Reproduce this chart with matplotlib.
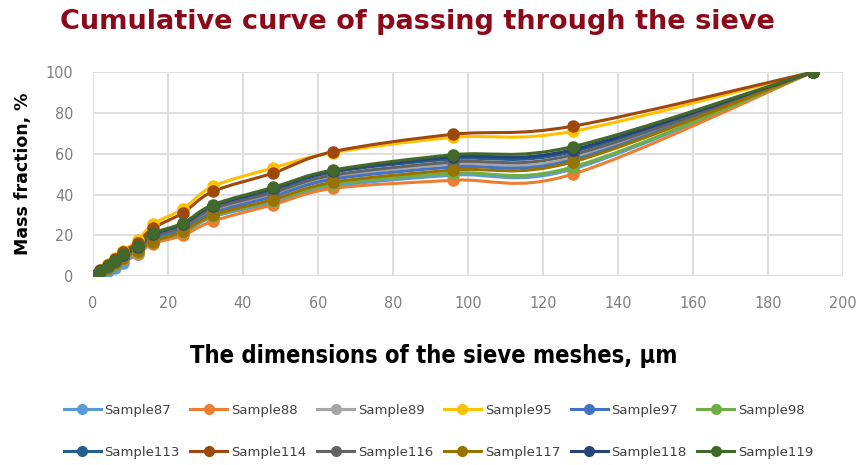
import matplotlib
matplotlib.use("Agg")
import matplotlib.pyplot as plt
import numpy as np
from matplotlib.lines import Line2D
from matplotlib.path import Path
from matplotlib.patches import PathPatch

# sieve mesh sizes, um
sizes = [0, 2, 4, 6, 8, 12, 16, 24, 32, 48, 64, 96, 128, 192]

s87 = [0, 1.2, 2.5, 4, 6.5, 11, 16.5, 21, 29, 36, 44, 49.5, 52.5, 100]
s88 = [0, 2, 3.8, 5.8, 8.5, 11, 16, 20, 27, 35, 43, 47, 50, 100]
s89 = [0, 2.2, 4.5, 6.8, 9.8, 13.5, 19, 24, 32, 40, 48.5, 55, 58, 100]
s95 = [0, 3, 6, 9, 12.5, 17.5, 25.5, 33, 44, 53, 60.5, 68, 71, 100]
s97 = [0, 2, 4.3, 6.5, 9.5, 13, 18.5, 23, 31, 39, 47.5, 53.5, 57, 100]
s98 = [0, 2, 4, 6, 9, 12, 17, 21.5, 29.5, 37, 45, 50.5, 53.5, 100]
s113 = [0, 2.5, 5, 7, 10.5, 14.5, 20, 25, 34, 42, 51, 57.5, 61, 100]
s114 = [0, 3, 5.5, 8.5, 12, 16.5, 23.5, 31, 41.5, 50.5, 61, 69.5, 73.5, 100]
s116 = [0, 2.3, 4.8, 7, 10, 14, 19.5, 24.5, 33, 41, 49.5, 56, 59.5, 100]
s117 = [0, 2, 4, 6.5, 9, 12.5, 17, 22, 30, 37.5, 46, 52, 56, 100]
s118 = [0, 2.5, 5, 7.5, 10.5, 14.5, 20.5, 25.5, 34.5, 43, 51.5, 58.5, 62, 100]
s119 = [0, 2.5, 5, 7.5, 11, 15, 21, 26, 35, 43.5, 52, 59.5, 63.5, 100]

names = ["Sample87", "Sample88", "Sample89", "Sample95", "Sample97", "Sample98",
         "Sample113", "Sample114", "Sample116", "Sample117", "Sample118", "Sample119"]
series = [s87, s88, s89, s95, s97, s98, s113, s114, s116, s117, s118, s119]
colors = ["#5B9BD5", "#ED7D31", "#A5A5A5", "#FFC000", "#4472C4", "#70AD47",
          "#255E91", "#9E480E", "#636363", "#997300", "#264478", "#43682B"]


def smooth_path(x, y):
    """Catmull-Rom style cubic bezier path through the points (Excel smooth line)."""
    pts = np.column_stack([x, y]).astype(float)
    n = len(pts)
    verts = [pts[0]]
    codes = [Path.MOVETO]
    for i in range(n - 1):
        p0 = pts[i - 1] if i > 0 else pts[i]
        p1, p2 = pts[i], pts[i + 1]
        p3 = pts[i + 2] if i + 2 < n else pts[i + 1]
        c1 = p1 + (p2 - p0) / 6.0
        c2 = p2 - (p3 - p1) / 6.0
        verts += [c1, c2, p2]
        codes += [Path.CURVE4] * 3
    return Path(verts, codes)


narrow = ["Liberation Sans Narrow", "DejaVu Sans"]

fig = plt.figure(figsize=(8.6, 4.65), dpi=100)
ax = fig.add_axes([0.108, 0.406, 0.872, 0.439])

for name, vals, col in zip(names, series, colors):
    ax.add_patch(PathPatch(smooth_path(sizes, vals), fill=False,
                           edgecolor=col, lw=2.2, zorder=3))
    ax.plot(sizes, vals, linestyle="none", marker="o", markersize=8,
            color=col, zorder=4)

ax.set_xlim(0, 200)
ax.set_ylim(0, 100)
ax.set_xticks(np.arange(0, 201, 20))
ax.set_yticks(np.arange(0, 101, 20))
ax.grid(True, color="#dcdcdc", lw=1.3)
ax.set_axisbelow(True)
for sp in ax.spines.values():
    sp.set_visible(False)
ax.tick_params(length=0, colors="#7f7f7f", labelsize=11.5)
ax.tick_params(axis="x", pad=14)
ax.tick_params(axis="y", pad=14)
for lbl in ax.get_xticklabels() + ax.get_yticklabels():
    lbl.set_family(narrow)
    lbl.set_stretch("condensed")

ax.set_xlabel("The dimensions of the sieve meshes, µm", fontsize=17,
              fontweight="bold", family=narrow)
ax.xaxis.label.set_stretch("condensed")
ax.xaxis.set_label_coords(0.454, -0.33)
ax.set_ylabel("Mass fraction, %", fontsize=12.5, fontweight="bold", labelpad=10)

fig.text(0.485, 0.953, "Cumulative curve of passing through the sieve",
         ha="center", va="center", fontsize=19.5, fontweight="bold",
         color="#8B0A1A")

handles = [Line2D([], [], color=c, lw=2.2, marker="o", markersize=7)
           for c in colors]
# matplotlib fills legend columns first: reorder so rows read left to right
order = [0, 6, 1, 7, 2, 8, 3, 9, 4, 10, 5, 11]
fig.legend([handles[i] for i in order], [names[i] for i in order],
           loc="center", bbox_to_anchor=(0.51, 0.072), ncol=6, frameon=False,
           fontsize=9.5, handlelength=2.8, columnspacing=0.8, handletextpad=0.3,
           labelspacing=2.2, labelcolor="#404040")

fig.savefig("out.png", dpi=100)
